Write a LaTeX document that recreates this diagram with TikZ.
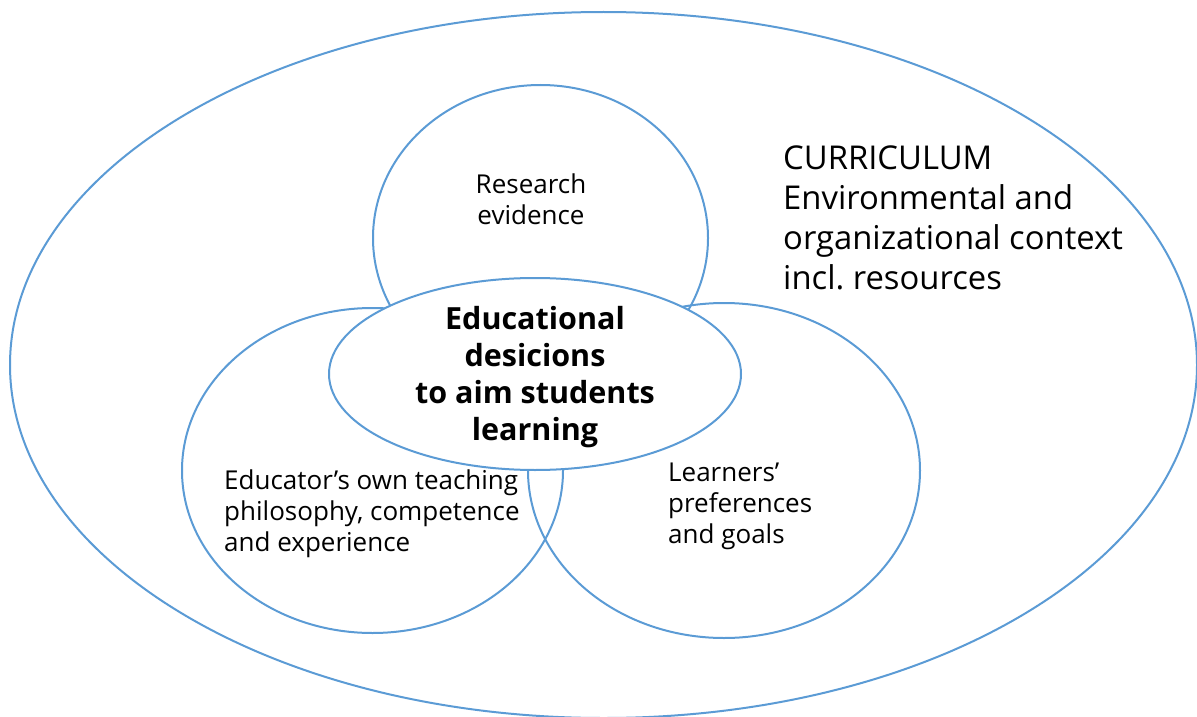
\documentclass[tikz,border=0pt]{standalone}
\usepackage{fontspec}
\setmainfont{Open Sans}
\usetikzlibrary{shapes.geometric}
\definecolor{ringblue}{HTML}{5B9BD5}
\frenchspacing
\tikzset{
  ring/.style={ellipse, draw=ringblue, line width=2pt, inner sep=0pt, outer sep=0pt},
  smalltxt/.style={font=\fontsize{26}{31}\selectfont, inner sep=0pt},
  boldtxt/.style={font=\fontsize{30.5}{37}\selectfont\bfseries, inner sep=0pt, align=center},
  bigtxt/.style={font=\fontsize{32.8}{40}\selectfont, inner sep=0pt, align=left}
}
\begin{document}
\begin{tikzpicture}[x=1pt,y=-1pt]
\useasboundingbox (0,0) rectangle (1197,717);
\node[ring, minimum width=1187pt, minimum height=706pt] (outer) at (603.5,365) {};
\node[ring, minimum width=335pt, minimum height=306pt] (top) at (540.5,238) {};
\node[ring, minimum width=381pt, minimum height=325pt] (left) at (372.5,470.5) {};
\node[ring, minimum width=392pt, minimum height=335pt] (right) at (724,470.5) {};
\node[ring, fill=white, minimum width=412pt, minimum height=192pt] (center) at (535,374) {};
\node[smalltxt, align=center] (research) at (531,199.5) {Research\\evidence};
\node[boldtxt] (decisions) at (535,377) {Educational\\desicions\\to aim students\\learning};
\node[smalltxt, align=left, anchor=west] (educator) at (224,514) {Educator’s own teaching\\philosophy, competence\\and experience};
\node[smalltxt, align=left, anchor=west] (learners) at (668,506.5) {Learners’\\preferences\\and goals};
\node[bigtxt, anchor=west] (curriculum) at (783,218) {CURRICULUM\\Environmental and\\organizational context\\incl. resources};
\end{tikzpicture}
\end{document}
